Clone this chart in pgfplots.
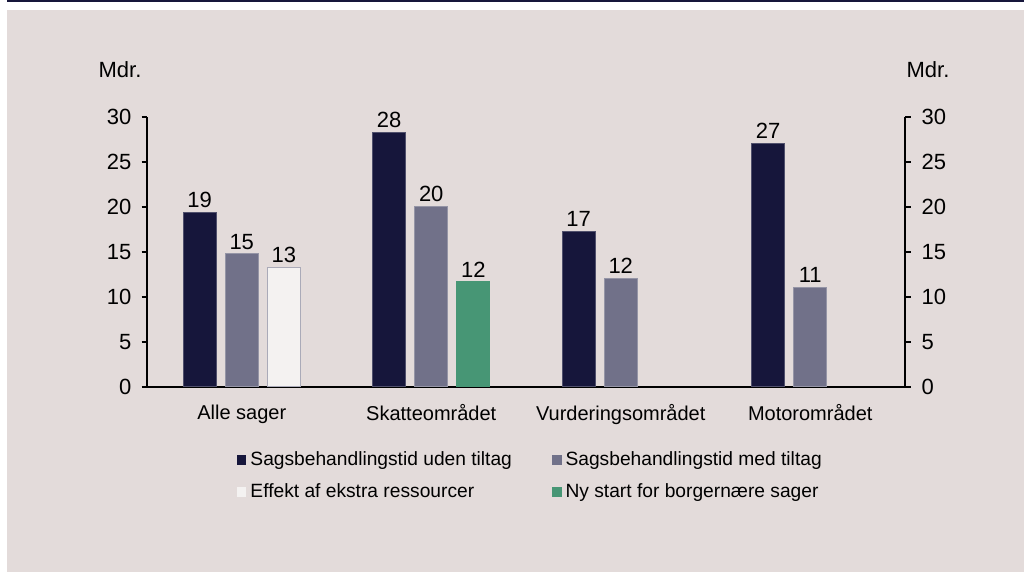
\documentclass[border=0pt]{standalone}
\usepackage{fontspec}
\setmainfont{Liberation Sans}
\usepackage{pgfplots}
\pgfplotsset{compat=1.18}
\definecolor{bg}{HTML}{E3DBDA}
\definecolor{navy}{HTML}{16163B}
\definecolor{greyp}{HTML}{717189}
\definecolor{offw}{HTML}{F4F2F1}
\definecolor{grn}{HTML}{479675}
\pgfplotsset{sq/.style={legend image code/.code={\path[##1,/tikz/.cd,draw=none] (0pt,-2.4pt) rectangle (4.8pt,2.4pt);}}}
\begin{document}
\begin{tikzpicture}[x=1pt,y=1pt]
\fill[white] (0,0) rectangle (512,286);
\fill[bg] (3.5,0) rectangle (512,281);
\fill[navy] (3.5,285) rectangle (512,286);
\node[font=\fontsize{11}{13}\selectfont] at (60,251) {Mdr.};
\node[font=\fontsize{11}{13}\selectfont] at (464,251) {Mdr.};
\begin{axis}[
  at={(73.5pt,92.5pt)}, anchor=south west,
  scale only axis, width=379pt, height=135pt,
  xmin=-0.5, xmax=3.5, ymin=0, ymax=30,
  axis x line*=bottom, axis y line*=left,
  axis line style={-, black, line width=0.75pt},
  ytick={0,5,...,30}, tick align=outside, major tick length=2.75pt,
  ytick style={black, line width=0.6pt},
  xtick={0,1,2,3},
  xticklabels={Alle sager, Skatteområdet, Vurderingsområdet, Motorområdet},
  xtick style={draw=none},
  yticklabel style={font=\fontsize{11}{13}\selectfont, xshift=-1.5pt},
  xticklabel style={font=\fontsize{10}{12}\selectfont, yshift=-2.5pt},
  /pgf/number format/assume math mode=true,
  nodes near coords, point meta=explicit symbolic,
  every node near coord/.append style={font=\fontsize{11}{13}\selectfont, anchor=south, inner sep=2pt},
  legend columns=2,
  legend cell align=left,
  legend style={at={(0.507,-0.33)}, anchor=center, draw=none, fill=none,
    font=\fontsize{9.6}{11.5}\selectfont,
    /tikz/every even column/.append style={column sep=18pt},
    row sep=3.5pt},
]
\addplot[ybar, bar width=0.174, bar shift=0pt, fill=navy, draw=navy!75!white, line width=0.5pt, sq]
  coordinates {(-0.222,19.4) [19] (0.778,28.3) [28] (1.778,17.3) [17] (2.778,27.1) [27]};
\addlegendentry{Sagsbehandlingstid uden tiltag}
\addplot[ybar, bar width=0.174, bar shift=0pt, fill=greyp, draw=greyp!75!white, line width=0.5pt, sq]
  coordinates {(0,14.8) [15] (1,20.1) [20] (2,12.1) [12] (3,11.1) [11]};
\addlegendentry{Sagsbehandlingstid med tiltag}
\addplot[ybar, bar width=0.174, bar shift=0pt, fill=offw, draw=greyp!60!white, line width=0.5pt, sq]
  coordinates {(0.222,13.3) [13]};
\addlegendentry{Effekt af ekstra ressourcer}
\addplot[ybar, bar width=0.174, bar shift=0pt, fill=grn, draw=grn, line width=0.5pt, sq]
  coordinates {(1.222,11.7) [12]};
\addlegendentry{Ny start for borgernære sager}
\end{axis}
\begin{axis}[
  at={(73.5pt,92.5pt)}, anchor=south west,
  scale only axis, width=379pt, height=135pt,
  xmin=-0.5, xmax=3.5, ymin=0, ymax=30,
  axis x line=none, axis y line*=right,
  axis line style={-, black, line width=0.75pt},
  ytick={0,5,...,30}, tick align=outside, major tick length=2.75pt,
  ytick style={black, line width=0.6pt},
  yticklabel style={font=\fontsize{11}{13}\selectfont, xshift=2pt},
  /pgf/number format/assume math mode=true,
]
\addplot[draw=none] coordinates {(0,0)};
\end{axis}
\end{tikzpicture}
\end{document}
